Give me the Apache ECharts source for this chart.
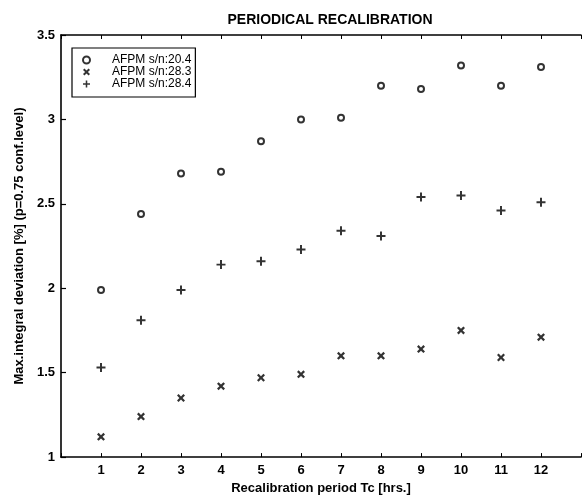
<!DOCTYPE html>
<html>
<head>
<meta charset="utf-8">
<script src="https://cdn.jsdelivr.net/npm/echarts@6/dist/echarts.min.js"></script>
<style>html,body{margin:0;padding:0;background:#fff}#c{width:584px;height:500px}</style>
</head>
<body>
<div id="c"></div>
<script>
const periods = [1,2,3,4,5,6,7,8,9,10,11,12];
const sn204 = [1.99,2.44,2.68,2.69,2.87,3.00,3.01,3.20,3.18,3.32,3.20,3.31];
const sn283 = [1.12,1.24,1.35,1.42,1.47,1.49,1.60,1.60,1.64,1.75,1.59,1.71];
const sn284 = [1.53,1.81,1.99,2.14,2.16,2.23,2.34,2.31,2.54,2.55,2.46,2.51];
const seriesNames = ['AFPM s/n:20.4','AFPM s/n:28.3','AFPM s/n:28.4'];
const xTickLabels = ['1','2','3','4','5','6','7','8','9','10','11','12'];

const FONT = '"Liberation Sans", Arial, Helvetica, sans-serif';
const xSym = 'path://M0,2L2,0L5,3L8,0L10,2L7,5L10,8L8,10L5,7L2,10L0,8L3,5Z';
const pSym = 'path://M3.9,0H6.1V3.9H10V6.1H6.1V10H3.9V6.1H0V3.9H3.9Z';

function pairs(vals){ return periods.map((p,i)=>[p, vals[i]]); }

const chart = echarts.init(document.getElementById('c'), null, {renderer:'canvas'});
const axisLine = {show:true, lineStyle:{color:'#000', width:1.6}};
chart.setOption({
  animation:false,
  backgroundColor:'#fff',
  title:{text:'PERIODICAL RECALIBRATION', left:325, top:8, textAlign:'center',
    textStyle:{fontFamily:FONT, fontSize:14, fontWeight:'bold', color:'#000'}},
  legend:{
    orient:'vertical', left:72, top:48, itemGap:0, itemWidth:7, itemHeight:7,
    padding:[6,4,7,10], borderColor:'#000', borderWidth:1.2,
    textStyle:{fontFamily:FONT, fontSize:12, color:'#000', lineHeight:11.5, padding:[0,0,0,17]},
    data:seriesNames
  },
  grid:{left:61, right:0, top:35, bottom:35},
  xAxis:[{
    type:'value', min:0, max:13, interval:1, position:'bottom',
    axisLine:axisLine, axisTick:{show:true, inside:true, length:4, lineStyle:{color:'#000', width:1}},
    splitLine:{show:false},
    axisLabel:{color:'#000', fontFamily:FONT, fontSize:13, fontWeight:'bold', margin:7,
      formatter:(v)=> (v>=1 && v<=12) ? xTickLabels[v-1] : ''},
    name:'Recalibration period Tc [hrs.]', nameLocation:'middle', nameGap:20,
    nameTextStyle:{color:'#000', fontFamily:FONT, fontSize:13, fontWeight:'bold'}
  },{
    type:'value', min:0, max:13, interval:1, position:'top',
    axisLine:axisLine, axisTick:{show:true, inside:true, length:4, lineStyle:{color:'#000', width:1}},
    splitLine:{show:false}, axisLabel:{show:false}
  }],
  yAxis:{
    type:'value', min:1, max:3.5, interval:0.5,
    axisLine:axisLine, axisTick:{show:true, inside:true, length:5, lineStyle:{color:'#000', width:1.2}},
    splitLine:{show:false},
    axisLabel:{color:'#000', fontFamily:FONT, fontSize:13, fontWeight:'bold', margin:6},
    name:'Max.integral deviation [%] (p=0.75 conf.level)', nameLocation:'middle', nameGap:35,
    nameTextStyle:{color:'#000', fontFamily:FONT, fontSize:13, fontWeight:'bold'}
  },
  series:[
    {name:seriesNames[0], type:'scatter', data:pairs(sn204), symbol:'emptyCircle', symbolSize:6,
      itemStyle:{color:'#000', borderWidth:1.8}},
    {name:seriesNames[1], type:'scatter', data:pairs(sn283), symbol:xSym, symbolSize:8,
      itemStyle:{color:'#000'}},
    {name:seriesNames[2], type:'scatter', data:pairs(sn284), symbol:pSym, symbolSize:9,
      itemStyle:{color:'#000'}}
  ]
});
</script>
</body>
</html>
